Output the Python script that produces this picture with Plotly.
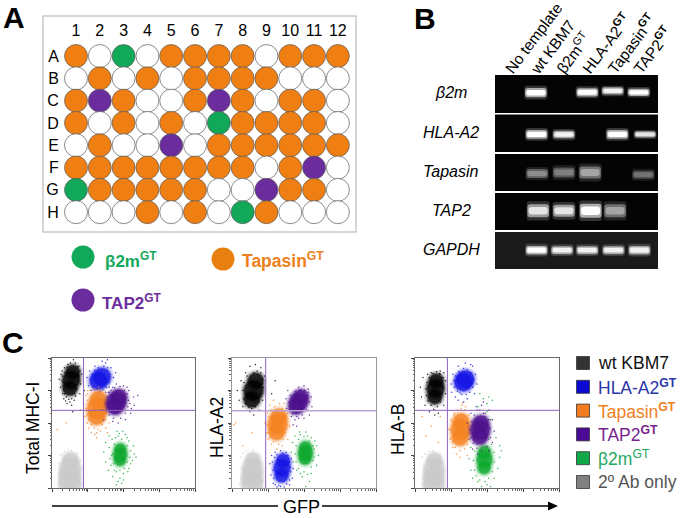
import plotly.graph_objects as go

W, H = 683, 518
FONT = "Liberation Sans"

# ---------- Panel A data ----------
COLUMNS = list(range(1, 13))
ROW_NAMES = ["A", "B", "C", "D", "E", "F", "G", "H"]
PLATE_ROWS = [
    "T.G.TTTT.TTT",
    ".T.T.TTTT...",
    "TPT..TPT.TT.",
    "T.T.T.GTTTT.",
    ".T..P.TTTTTT",
    "TTTTTTTT.TP.",
    "GTTTTT..PTT.",
    "...T.T.GT...",
]

# ---------- Panel B data ----------
LANE_LABELS = ["No template", "wt KBM7", "β2m<sup>GT</sup>", "HLA-A2<sup><b>GT</b></sup>",
               "Tapasin<sup><b>GT</b></sup>", "TAP2<sup><b>GT</b></sup>"]
GENES = ["β2m", "HLA-A2", "Tapasin", "TAP2", "GAPDH"]
B2M_LANES = [1.01, 3.01, 4.0, 5.01]
B2M_POS = [0.535, 0.545, 0.58, 0.545]
B2M_THICK = [0.18, 0.16, 0.14, 0.14]
B2M_LEVEL = [1.0, 1.0, 0.95, 1.0]
HLA_LANES = [1.04, 2.1, 4.18, 5.26]
HLA_POS = [0.47, 0.465, 0.47, 0.47]
HLA_THICK = [0.17, 0.15, 0.17, 0.12]
HLA_LEVEL = [1.0, 0.95, 1.0, 0.9]
TPN_LANES = [1.06, 2.1, 3.12, 5.19]
TPN_POS = [0.47, 0.5, 0.5, 0.44]
TPN_THICK = [0.18, 0.2, 0.24, 0.16]
TPN_LEVEL = [0.55, 0.5, 0.65, 0.45]
TAP_LANES = [1.1, 2.1, 3.14, 4.09]
TAP_POS = [0.52, 0.52, 0.52, 0.52]
TAP_THICK = [0.26, 0.24, 0.28, 0.26]
TAP_LEVEL = [0.9, 0.9, 1.0, 0.65]
GAP_LANES = [1.04, 2.03, 3.01, 4.03, 5.04]
GAP_POS = [0.51, 0.51, 0.51, 0.51, 0.51]
GAP_THICK = [0.17, 0.16, 0.16, 0.16, 0.17]
GAP_LEVEL = [1.0, 0.95, 0.95, 0.95, 0.95]

# ---------- Panel C data (log10 fluorescence) ----------
P1_QUAD = (0.88, 2.39)
P2_QUAD = (0.935, 2.38)
P3_QUAD = (0.90, 2.39)

P1_GRAY = [(.52, .85), (.51, .6), (.50, .35), (.5, .1)]
P1_GREEN = [(1.91, 1.2), (1.91, 1.02), (1.90, .85)]
P1_BLACK = [(.58, 3.57), (.54, 3.32), (.50, 3.06)]
P1_BLUE = [(1.40, 3.42), (1.30, 3.30)]
P1_ORANGE = [(1.30, 2.72), (1.27, 2.45), (1.25, 2.2)]
P1_PURPLE = [(1.87, 2.8), (1.80, 2.65), (1.76, 2.5)]
P1_GRAY_DOTS = [(.22, 1.0), (.25, .7), (.2, .4), (.28, 1.05), (.35, 1.12), (.55, 1.15), (.7, 1.05), (.8, .85), (.83, .6), (.8, .3), (.22, .15), (.82, .12), (.45, 1.17), (.18, .75)]
P1_BLACK_DOTS = [(.20, 3.35), (.24, 3.1), (.28, 3.6), (.3, 2.9), (.33, 2.75), (.42, 2.6), (.55, 2.55), (.62, 2.7), (.78, 2.9), (.8, 3.2), (.83, 3.5), (.75, 3.75), (.65, 3.85), (.45, 3.8), (.35, 3.7), (.9, 3.0), (.58, 2.35), (.25, 3.5),
                 (.28, 3.3), (.31, 3.15), (.29, 3.45), (.33, 3.0), (.35, 2.9), (.4, 2.8), (.47, 2.72), (.55, 2.75), (.63, 2.9), (.7, 3.05), (.73, 3.3), (.76, 3.45), (.78, 3.6), (.72, 3.72), (.6, 3.95), (.52, 3.85), (.42, 3.72), (.36, 3.55), (.31, 3.25), (.66, 2.82), (.38, 2.68), (.5, 2.65)]
P1_BLUE_DOTS = [(.98, 3.4), (1.02, 3.15), (1.05, 3.6), (1.1, 3.0), (1.2, 3.75), (1.4, 3.9), (1.55, 3.95), (1.65, 3.7), (1.72, 3.4), (1.7, 3.1), (1.6, 2.95), (1.3, 2.9), (1.5, 3.85), (1.78, 3.55),
                (1.08, 3.35), (1.1, 3.2), (1.12, 3.5), (1.15, 3.1), (1.2, 3.62), (1.25, 3.05), (1.3, 3.7), (1.42, 3.02), (1.45, 3.75), (1.52, 3.1), (1.56, 3.7), (1.6, 3.25), (1.62, 3.5), (1.35, 2.98), (1.18, 3.02), (1.55, 3.6)]
P1_ORANGE_DOTS = [(.88, 2.6), (.92, 2.2), (.95, 2.85), (.98, 2.0), (1.03, 1.85), (1.1, 1.7), (1.25, 1.55), (1.35, 1.75), (1.5, 1.85), (1.6, 2.0), (1.0, 3.0), (.8, 2.4), (1.2, 1.65), (.4, 2.0), (.15, 1.8), (1.55, 1.7),
                  (.95, 2.45), (.98, 2.7), (.97, 2.25), (1.0, 2.9), (1.03, 2.1), (1.07, 3.0), (1.1, 1.95), (1.18, 1.85), (1.28, 1.8), (1.4, 1.95), (1.48, 2.1), (1.52, 2.3), (1.15, 3.05), (1.3, 3.1), (1.05, 2.55), (1.25, 1.7)]
P1_PURPLE_DOTS = [(1.4, 2.4), (1.45, 2.1), (1.5, 2.95), (1.6, 3.1), (1.8, 3.2), (2.0, 3.15), (2.15, 3.0), (2.28, 2.8), (2.3, 2.55), (2.2, 2.3), (2.05, 2.1), (1.85, 2.0), (2.4, 2.85), (1.7, 2.05), (2.1, 3.1), (2.22, 2.45),
                  (1.52, 2.6), (1.53, 2.4), (1.55, 2.8), (1.6, 2.25), (1.65, 3.0), (1.72, 2.15), (1.75, 3.08), (1.9, 3.12), (2.02, 3.0), (2.1, 2.9), (2.14, 2.7), (2.12, 2.5), (2.05, 2.3), (1.92, 2.15), (2.18, 2.6), (1.58, 2.95)]
P1_GREEN_DOTS = [(1.45, 1.1), (1.5, .8), (1.5, 1.4), (1.58, .55), (1.6, 1.6), (1.7, .35), (1.75, 1.35), (1.7, 1.05), (1.72, .75), (1.85, 1.6), (1.9, .3), (1.95, 1.5), (2.0, .45), (2.05, 1.65), (2.15, 1.45), (2.2, 1.15), (2.25, .85), (2.15, .6), (2.1, 1.3), (2.1, .8), (2.3, 1.05), (1.8, .1), (1.95, .15), (2.35, .95),
                 (1.6, 1.25), (1.62, .9), (1.65, .7), (1.68, 1.5), (1.78, 1.55), (1.8, .5), (1.82, 1.75), (1.9, .55), (1.98, 1.75), (2.02, .6), (2.1, 1.55), (2.12, .5), (2.18, .95), (2.28, 1.3), (1.88, 1.68), (1.75, .55), (1.67, 1.0), (2.2, .75), (1.85, .2), (2.0, .25)]

P2_GRAY = [(.58, .85), (.57, .6), (.56, .35), (.56, .1)]
P2_GREEN = [(2.04, 1.25), (2.04, 1.07), (2.03, .9)]
P2_BLACK = [(.66, 3.3), (.60, 3.0), (.55, 2.72)]
P2_BLUE = [(1.42, .85), (1.39, .62), (1.38, .38)]
P2_ORANGE = [(1.30, 2.2), (1.27, 1.97), (1.24, 1.72)]
P2_PURPLE = [(1.92, 2.8), (1.85, 2.65), (1.78, 2.5)]
P2_GRAY_DOTS = [(.25, .95), (.28, .6), (.25, .3), (.3, 1.08), (.4, 1.15), (.58, 1.18), (.75, 1.05), (.85, .8), (.88, .5), (.85, .2), (.22, .12)]
P2_BLACK_DOTS = [(.15, 3.0), (.2, 2.7), (.25, 3.3), (.3, 2.5), (.38, 3.55), (.5, 2.35), (.6, 2.25), (.75, 2.4), (.85, 2.7), (.88, 3.1), (.9, 3.45), (.8, 3.7), (.65, 3.8), (.5, 3.75), (1.2, 3.3), (1.1, 2.9),
                 (.3, 3.0), (.32, 2.75), (.33, 3.25), (.38, 2.6), (.42, 3.45), (.47, 2.48), (.55, 2.45), (.65, 2.5), (.75, 2.65), (.8, 2.9), (.83, 3.2), (.85, 3.35), (.8, 3.55), (.7, 3.6), (.6, 3.55), (.4, 2.9)]
P2_BLUE_DOTS = [(1.05, .75), (1.08, .4), (1.1, 1.0), (1.15, .15), (1.2, 1.1), (1.3, .08), (1.35, 1.15), (1.5, 1.1), (1.65, .9), (1.7, .6), (1.68, .3), (1.6, .1), (1.45, .03), (1.25, .03),
                (1.12, .8), (1.14, .55), (1.16, .3), (1.18, .95), (1.25, 1.02), (1.4, 1.08), (1.55, 1.0), (1.6, .8), (1.63, .5), (1.6, .25), (1.52, .12), (1.35, .05), (1.2, .1), (1.62, .65)]
P2_ORANGE_DOTS = [(.92, 2.0), (.95, 1.7), (.98, 2.3), (1.0, 1.5), (1.05, 2.55), (1.15, 2.7), (1.1, 1.35), (1.25, 1.2), (1.4, 1.3), (1.55, 1.5), (1.6, 1.9), (1.55, 2.3), (1.45, 2.6), (.1, 2.0), (.55, 1.7), (.3, 1.3), (.05, 1.95),
                  (.98, 1.95), (1.0, 1.7), (1.02, 2.2), (1.05, 1.55), (1.08, 2.4), (1.15, 1.42), (1.18, 2.5), (1.3, 1.35), (1.32, 2.6), (1.42, 1.5), (1.48, 1.7), (1.52, 1.95), (1.5, 2.2), (1.4, 2.45)]
P2_PURPLE_DOTS = [(1.5, 2.75), (1.52, 2.45), (1.55, 3.0), (1.65, 2.2), (1.75, 2.1), (1.85, 3.1), (2.0, 3.15), (2.12, 3.05), (2.2, 2.8), (2.22, 2.5), (2.15, 2.25), (2.0, 2.15), (1.7, 1.95), (1.8, 1.9),
                  (1.58, 2.65), (1.6, 2.4), (1.62, 2.85), (1.68, 2.28), (1.75, 2.98), (1.8, 2.2), (1.9, 3.02), (2.02, 3.0), (2.1, 2.85), (2.15, 2.65), (2.08, 2.4), (1.95, 2.25), (1.85, 2.15), (2.12, 2.95)]
P2_GREEN_DOTS = [(1.65, 1.1), (1.68, 1.4), (1.7, .8), (1.75, 1.6), (1.8, .55), (1.9, 1.65), (1.95, .35), (2.1, 1.6), (2.2, 1.55), (2.35, 1.3), (2.4, 1.0), (2.35, .7), (2.2, .45), (2.15, .2), (2.05, .05), (2.25, .85), (2.3, 1.45),
                 (1.75, 1.05), (1.78, 1.3), (1.78, .8), (1.85, 1.5), (1.85, .6), (2.0, 1.58), (2.0, .5), (2.1, .42), (2.15, 1.45), (2.28, 1.2), (2.28, .95), (2.2, .65), (1.9, .45), (2.25, 1.3), (1.88, 1.72), (2.05, 1.72)]

P3_GRAY = [(.54, .85), (.53, .6), (.52, .35), (.52, .1)]
P3_GREEN = [(1.93, 1.1), (1.93, .87), (1.92, .62)]
P3_BLACK = [(.59, 3.3), (.57, 3.06), (.55, 2.8)]
P3_BLUE = [(1.40, 3.35), (1.34, 3.25)]
P3_ORANGE = [(1.28, 2.05), (1.27, 1.8), (1.25, 1.55)]
P3_PURPLE = [(1.83, 2.0), (1.81, 1.79), (1.80, 1.58)]
P3_GRAY_DOTS = [(.2, .95), (.25, .6), (.22, .3), (.28, 1.05), (.38, 1.12), (.5, 1.15), (.7, 1.05), (.8, .8), (.82, .5), (.78, .2), (.2, .12)]
P3_BLACK_DOTS = [(.15, 3.1), (.18, 2.8), (.22, 3.4), (.28, 2.55), (.35, 3.5), (.4, 2.35), (.55, 2.25), (.65, 2.3), (.8, 2.55), (.85, 2.9), (.85, 3.3), (.8, 3.55), (.7, 3.6), (.45, 3.55),
                 (.3, 3.05), (.32, 2.85), (.33, 3.25), (.36, 2.68), (.4, 3.4), (.45, 2.55), (.52, 2.42), (.62, 2.5), (.7, 2.65), (.75, 2.9), (.78, 3.1), (.78, 3.4), (.7, 3.5), (.6, 3.58), (.5, 3.52), (.68, 3.52)]
P3_BLUE_DOTS = [(1.0, 3.2), (1.02, 2.95), (1.05, 3.5), (1.12, 2.8), (1.2, 2.7), (1.2, 3.75), (1.4, 3.85), (1.55, 3.8), (1.68, 3.5), (1.72, 3.2), (1.65, 2.9), (1.45, 2.75), (1.35, 2.65), (1.6, 3.75),
                (1.08, 3.3), (1.1, 3.1), (1.12, 3.45), (1.18, 2.98), (1.22, 3.58), (1.3, 2.88), (1.35, 3.68), (1.45, 3.65), (1.55, 3.55), (1.62, 3.35), (1.6, 3.1), (1.52, 2.95), (1.42, 2.88), (1.25, 2.92)]
P3_ORANGE_DOTS = [(.95, 1.8), (.98, 1.5), (1.0, 2.1), (1.05, 1.25), (1.1, 2.3), (1.15, 1.05), (1.3, 2.55), (1.4, 2.5), (1.25, .95), (1.45, 1.0), (.45, 1.9), (.3, 1.6), (.65, 1.4), (.7, 2.2), (.2, 2.2),
                  (.98, 1.8), (1.0, 1.55), (1.02, 2.05), (1.05, 1.4), (1.08, 2.25), (1.12, 1.25), (1.18, 2.4), (1.25, 1.15), (1.28, 2.45), (1.38, 1.2), (1.45, 1.35), (1.38, 2.4), (1.5, 2.25), (1.32, 2.62)]
P3_PURPLE_DOTS = [(1.45, 2.0), (1.5, 1.5), (1.55, 2.3), (1.6, 1.2), (1.7, 2.5), (1.75, 1.05), (1.9, 2.65), (2.05, 2.4), (2.15, 2.1), (2.2, 1.75), (2.15, 1.4), (2.05, 1.15), (1.9, 2.3),
                  (1.52, 1.8), (1.55, 1.55), (1.58, 2.05), (1.62, 1.38), (1.65, 2.25), (1.72, 1.22), (1.8, 2.4), (1.85, 1.15), (1.95, 2.3), (2.05, 2.1), (2.08, 1.85), (2.1, 1.55), (2.0, 1.28), (1.72, 2.4), (1.85, 2.55)]
P3_GREEN_DOTS = [(1.5, .9), (1.55, .55), (1.55, 1.25), (1.6, .3), (1.65, 1.5), (1.75, .2), (1.8, 2.9), (1.9, 2.75), (2.0, 2.6), (2.0, .1), (2.2, .3), (2.3, .6), (2.35, .95), (2.35, 1.3), (2.25, 1.55), (2.15, 2.7), (2.1, .05), (2.4, 1.15), (1.85, .05),
                 (1.62, .85), (1.65, .55), (1.65, 1.15), (1.7, .38), (1.72, 1.35), (1.8, .25), (1.85, 1.45), (1.95, .2), (2.05, .3), (2.15, .5), (2.2, .8), (2.2, 1.1), (2.12, 1.35), (2.05, 1.5), (1.95, 1.55), (2.1, 2.1), (1.75, 2.5), (1.95, 2.2), (2.05, 2.8), (2.0, 2.35)]

C_YLABELS = ["Total MHC-I", "HLA-A2", "HLA-B"]
C_LEGEND = ["wt KBM7", "HLA-A2<sup><b>GT</b></sup>", "Tapasin<sup><b>GT</b></sup>",
            "TAP2<sup><b>GT</b></sup>", "β2m<sup>GT</sup>", "2º Ab only"]

# ---------- Styles ----------
GROUP_COLOR = {"T": "#F07F13", "G": "#12A85A", "P": "#6B2D9E", ".": "white"}
C_BLACK, C_BLUE, C_ORANGE = "#000000", "#1414E6", "#F58220"
C_PURPLE, C_GREEN, C_GRAY = "#4B0F8C", "#0CA82C", "#C9C9C9"


def dx(a, b):
    return [a / W, b / W]


def dy(top, bottom):
    return [1 - bottom / H, 1 - top / H]


def px(x):
    return x / W


def py(y):
    return 1 - y / H


fig = go.Figure()
layout = {}
shapes = []
annotations = []


def text(x, y, s, size, color="black", angle=0, xanchor="center", yanchor="middle"):
    annotations.append(dict(x=px(x), y=py(y), xref="paper", yref="paper", text=s, showarrow=False,
                            font=dict(family=FONT, size=size, color=color), textangle=angle,
                            xanchor=xanchor, yanchor=yanchor, borderpad=0, borderwidth=0))


# ---------- Panel A ----------
shapes.append(dict(type="rect", xref="paper", yref="paper", x0=px(43), x1=px(356), y0=py(16), y1=py(232),
                   line=dict(color="#C9C9C9", width=1.5), layer="below"))
xs, ys, cs = [], [], []
for row, pattern in zip(ROW_NAMES, PLATE_ROWS):
    for col, code in zip(COLUMNS, pattern):
        xs.append(col)
        ys.append(row)
        cs.append(GROUP_COLOR[code])
fig.add_trace(go.Scatter(x=xs, y=ys, mode="markers", xaxis="x", yaxis="y", cliponaxis=False,
                         marker=dict(size=23, color=cs, line=dict(color="#5A5A5A", width=0.7))))
layout["xaxis"] = dict(domain=dx(64, 350), range=[0.496, 12.51], side="top", anchor="y", tickvals=COLUMNS,
                       ticks="outside", ticklen=1, tickcolor="rgba(0,0,0,0)", showgrid=False, zeroline=False,
                       showline=False, tickfont=dict(family=FONT, size=16))
layout["yaxis"] = dict(domain=dy(44, 224), type="category", categoryorder="array", categoryarray=ROW_NAMES,
                       range=[7.53, -0.54], anchor="x", ticks="outside", ticklen=1,
                       tickcolor="rgba(0,0,0,0)", showgrid=False, zeroline=False, showline=False,
                       tickfont=dict(family=FONT, size=16))

# ---------- Panel B ----------
GEL_ROWS = [(75, 113), (114.5, 152), (154, 191), (193, 230), (232, 269)]
GEL_DATA = [(B2M_LANES, B2M_POS, B2M_THICK, B2M_LEVEL), (HLA_LANES, HLA_POS, HLA_THICK, HLA_LEVEL),
            (TPN_LANES, TPN_POS, TPN_THICK, TPN_LEVEL), (TAP_LANES, TAP_POS, TAP_THICK, TAP_LEVEL),
            (GAP_LANES, GAP_POS, GAP_THICK, GAP_LEVEL)]
GEL_BG = ["#040404", "#040404", "#040404", "#040404", "#1A1A1A"]


def grey(level, gain=1.0):
    v = int(min(255, 255 * level * gain))
    return f"rgb({v},{v},{v})"


for i, (gene, (top, bot), (lanes, pos, thick, level)) in enumerate(zip(GENES, GEL_ROWS, GEL_DATA)):
    n = i + 2
    shapes.append(dict(type="rect", xref="paper", yref="paper", x0=px(495), x1=px(658), y0=py(top), y1=py(bot),
                       fillcolor=GEL_BG[i], line=dict(width=0), layer="below"))
    for grow, width, gain, op in [(2.0, 0.9, 0.5, 0.4), (1.35, 0.84, 0.8, 0.8), (0.8, 0.74, 1.0, 1.0)]:
        t = [v * grow for v in thick]
        fig.add_trace(go.Bar(x=lanes, y=t, base=[p - v / 2 for p, v in zip(pos, t)], width=width,
                             xaxis=f"x{n}", yaxis=f"y{n}", opacity=op,
                             marker=dict(color=[grey(l, gain) for l in level], line=dict(width=0))))
    xa = dict(domain=dx(495, 658), range=[-0.58, 5.76], anchor=f"y{n}", showgrid=False, zeroline=False,
              showline=False, visible=False)
    if i == 0:
        xa = dict(domain=dx(495, 658), range=[-0.58, 5.76], anchor="free", position=py(81), side="top",
                  showgrid=False, zeroline=False, showline=False, showticklabels=True,
                  tickvals=[k - 0.12 for k in range(6)], ticktext=LANE_LABELS, tickangle=-53,
                  tickfont=dict(family=FONT, size=15.5), ticks="")
    layout[f"xaxis{n}"] = xa
    layout[f"yaxis{n}"] = dict(domain=dy(top, bot), range=[0, 1], anchor=f"x{n}", showgrid=False, zeroline=False,
                               showline=False, visible=False)
    text(451, (top + bot) / 2 - 1, f"<i>{gene}</i>", 16)

# ---------- Panel C ----------
PANELS = [
    (dx(52, 195), P1_QUAD, [
        (C_GRAY, P1_GRAY, P1_GRAY_DOTS, 22),
        (C_GREEN, P1_GREEN, P1_GREEN_DOTS, 13),
        (C_BLACK, P1_BLACK, P1_BLACK_DOTS, 17),
        (C_BLUE, P1_BLUE, P1_BLUE_DOTS, 17),
        (C_ORANGE, P1_ORANGE, P1_ORANGE_DOTS, 20),
        (C_PURPLE, P1_PURPLE, P1_PURPLE_DOTS, 19)]),
    (dx(232, 376), P2_QUAD, [
        (C_GRAY, P2_GRAY, P2_GRAY_DOTS, 21),
        (C_GREEN, P2_GREEN, P2_GREEN_DOTS, 14),
        (C_BLACK, P2_BLACK, P2_BLACK_DOTS, 19),
        (C_BLUE, P2_BLUE, P2_BLUE_DOTS, 16),
        (C_ORANGE, P2_ORANGE, P2_ORANGE_DOTS, 19),
        (C_PURPLE, P2_PURPLE, P2_PURPLE_DOTS, 18)]),
    (dx(415, 559), P3_QUAD, [
        (C_GRAY, P3_GRAY, P3_GRAY_DOTS, 21),
        (C_GREEN, P3_GREEN, P3_GREEN_DOTS, 15),
        (C_BLACK, P3_BLACK, P3_BLACK_DOTS, 17),
        (C_BLUE, P3_BLUE, P3_BLUE_DOTS, 17),
        (C_ORANGE, P3_ORANGE, P3_ORANGE_DOTS, 19),
        (C_PURPLE, P3_PURPLE, P3_PURPLE_DOTS, 19)]),
]
MAJOR = [1, 10, 100, 1000, 10000]
MINOR = [m * 10 ** d for d in range(4) for m in range(2, 10)]
for k, (dom, quad, pops) in enumerate(PANELS):
    n = 7 + k
    xn, yn = f"x{n}", f"y{n}"
    for color, core, dots, size in pops:
        cx = [10 ** p[0] for p in core]
        cy = [10 ** p[1] for p in core]
        # ellipse-like blob: the middle point of a run is widest
        if len(core) == 3:
            factor = [0.8, 1.0, 0.8]
        elif len(core) == 4:
            factor = [0.72, 0.95, 1.0, 1.0]
        else:
            factor = [1.0, 1.0]
        for grow, op in ([(4, 0.35)] if color == C_GRAY else [(8, 0.10), (5, 0.18), (2.5, 0.4)]):
            fig.add_trace(go.Scatter(x=cx, y=cy, mode="markers", xaxis=xn, yaxis=yn,
                                     marker=dict(size=[size * f + grow for f in factor], color=color, opacity=op,
                                                 line=dict(width=0))))
        fig.add_trace(go.Scatter(x=cx, y=cy, mode="markers", xaxis=xn, yaxis=yn,
                                 marker=dict(size=[size * f for f in factor], color=color, line=dict(width=0))))
        fig.add_trace(go.Scatter(x=[10 ** p[0] for p in dots], y=[10 ** p[1] for p in dots], mode="markers",
                                 xaxis=xn, yaxis=yn, marker=dict(size=1.5, color=color, opacity=0.85, line=dict(width=0))))
    qcolor = "#B9A3D0" if k == 1 else "#9060C0"
    fig.add_trace(go.Scatter(x=[10 ** quad[0]] * 2, y=[1, 10000], mode="lines", xaxis=xn, yaxis=yn,
                             line=dict(color="#9060C0", width=1)))
    fig.add_trace(go.Scatter(x=[1, 10000], y=[10 ** quad[1]] * 2, mode="lines", xaxis=xn, yaxis=yn,
                             line=dict(color=qcolor, width=1.5 if k == 1 else 1)))
    lcolor = "#999999" if k == 1 else "#6A6A6A"
    for name, d, other, vals in [("xaxis", dom, yn, MAJOR), ("yaxis", dy(358, 488), xn, MAJOR)]:
        layout[f"{name}{n}"] = dict(domain=d, type="log", range=[0, 4], anchor=other, tickvals=vals,
                                    showticklabels=False, showgrid=False, zeroline=False, showline=True,
                                    mirror=True, linecolor=lcolor, linewidth=1.2 if k == 1 else 1,
                                    ticks="outside", ticklen=3, tickcolor="#444444", tickwidth=1,
                                    minor=dict(tickvals=MINOR, ticks="outside", ticklen=1.5, tickcolor="#666666",
                                               tickwidth=0.7, showgrid=False))

text(33, 428, C_YLABELS[0], 17.5, angle=-90)
text(217, 428, C_YLABELS[1], 17.5, angle=-90)
text(398, 429, C_YLABELS[2], 17.5, angle=-90)

# GFP arrow
shapes.append(dict(type="line", xref="paper", yref="paper", x0=px(52), x1=px(278), y0=py(506), y1=py(506),
                   line=dict(color="black", width=1.5)))
shapes.append(dict(type="line", xref="paper", yref="paper", x0=px(322), x1=px(550), y0=py(506), y1=py(506),
                   line=dict(color="black", width=1.5)))
shapes.append(dict(type="path", xref="paper", yref="paper",
                   path=f"M {px(548)} {py(501.5)} L {px(558)} {py(506)} L {px(548)} {py(510.5)} Z",
                   fillcolor="black", line=dict(width=0)))
text(301, 507, "GFP", 18)

# ---------- Free-standing pixel axis for the keys ----------
KEY_A_X = [83, 223, 83]
KEY_A_Y = [257, 259, 300]
KEY_A_C = [GROUP_COLOR["G"], "#E8800F", GROUP_COLOR["P"]]
fig.add_trace(go.Scatter(x=KEY_A_X, y=KEY_A_Y, mode="markers", xaxis="x20", yaxis="y20",
                         marker=dict(size=23, color=KEY_A_C, line=dict(width=0))))
KEY_C_COLORS = ["#333333", "#0A0AD0", "#F47C20", "#4B0A96", "#11A84A", "#808080"]
KEY_C_TEXT = ["#111111", "#2B35A8", "#EE8022", "#7A1F90", "#22A860", "#555555"]
key_y = [363 + 23.8 * i for i in range(len(C_LEGEND))]
fig.add_trace(go.Scatter(x=[583] * len(C_LEGEND), y=key_y, mode="markers", xaxis="x20", yaxis="y20",
                         marker=dict(size=13, symbol="square", color=KEY_C_COLORS,
                                     line=dict(color="#333333", width=0.8))))
layout["xaxis20"] = dict(domain=[0, 1], range=[0, W], visible=False, anchor="y20")
layout["yaxis20"] = dict(domain=[0, 1], range=[H, 0], visible=False, anchor="x20")
for lab, yy, col in zip(C_LEGEND, key_y, KEY_C_TEXT):
    text(598, yy, lab, 17.5, color=col, xanchor="left")

text(105, 260, "<b>β2m<sup>GT</sup></b>", 17, color="#12A85A", xanchor="left")
text(242, 260, "<b>Tapasin<sup>GT</sup></b>", 17.5, color="#F0801A", xanchor="left")
text(102, 302, "<b>TAP2<sup>GT</sup></b>", 17, color="#6B2D9E", xanchor="left")

# Panel letters
text(3, 17, "<b>A</b>", 30, xanchor="left")
text(414, 18, "<b>B</b>", 30, xanchor="left")
text(2, 342, "<b>C</b>", 30, xanchor="left")

fig.update_layout(width=W, height=H, margin=dict(l=0, r=0, t=0, b=0, autoexpand=False), showlegend=False,
                  autosize=False, paper_bgcolor="white", plot_bgcolor="rgba(0,0,0,0)", barmode="overlay",
                  barcornerradius=3, font=dict(family=FONT, color="black"), shapes=shapes,
                  annotations=annotations, **layout)
fig.write_html("out.html", config={"displayModeBar": False},
               post_script="document.body.style.margin='0';document.body.style.overflow='hidden';")
